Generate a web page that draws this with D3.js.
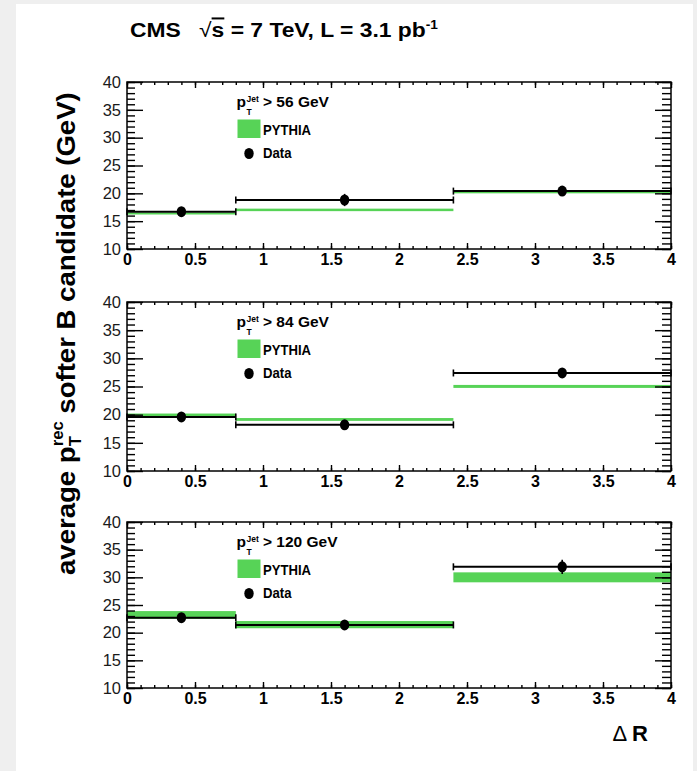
<!DOCTYPE html>
<html>
<head>
<meta charset="utf-8">
<script src="https://cdn.jsdelivr.net/npm/d3@7"></script>
<style>
  body { margin: 0; background: #efefef; }
  svg { display: block; }
  text { white-space: pre; }
</style>
</head>
<body>
<svg id="chart" width="697" height="771"></svg>
<script>
// ΔR bin edges shared by all three jet-pT selections
const binEdges = [0, 0.8, 2.4, 4];
// jet pT thresholds (GeV), one per panel
const jetCuts = ["56", "84", "120"];
// measured average pT of the softer B candidate (GeV) per ΔR bin
const dataValues = [
  [16.7, 18.8, 20.4],
  [19.6, 18.2, 27.4],
  [22.7, 21.4, 31.9]
];
const dataErrors = [
  [0.5, 1.1, 0.5],
  [0.6, 0.6, 0.9],
  [0.7, 0.7, 1.3]
];
// PYTHIA prediction band (lower / upper edge, GeV)
const pythiaLow = [
  [16.2, 16.8, 20.0],
  [19.6, 18.9, 24.75],
  [22.5, 20.8, 29.1]
];
const pythiaHigh = [
  [16.55, 17.25, 20.35],
  [20.2, 19.4, 25.28],
  [23.9, 22.1, 30.9]
];
const yTicks = [10, 15, 20, 25, 30, 35, 40];
const xTicks = [0, 0.5, 1, 1.5, 2, 2.5, 3, 3.5, 4];
const xTickLabels = ["0", "0.5", "1", "1.5", "2", "2.5", "3", "3.5", "4"];

const FONT = "'Liberation Sans', Arial, Helvetica, sans-serif";
const GREEN = "#57d357";
const W = 697, H = 771;

const svg = d3.select("#chart");
svg.append("rect").attr("x", 16).attr("y", 4).attr("width", 677).attr("height", H)
  .attr("fill", "#ffffff");

const x = d3.scaleLinear().domain([0, 4]).range([127, 671]);
const panels = [
  { top: 82, bottom: 249 },
  { top: 302, bottom: 471 },
  { top: 522, bottom: 688 }
];

const minorY = d3.range(10, 41);
const minorX = d3.range(0, 41).map(i => i / 10);

// lays out text runs left to right; a run with sup/sub stacks both at the same x
function richText(parent, runs, weight) {
  let cx = 0;
  runs.forEach(r => {
    if (r.sup !== undefined) {
      const a = parent.append("text").attr("x", cx).attr("y", r.supY)
        .attr("font-size", r.size).attr("font-weight", weight).attr("font-family", FONT).text(r.sup);
      const b = parent.append("text").attr("x", cx).attr("y", r.subY)
        .attr("font-size", r.size).attr("font-weight", weight).attr("font-family", FONT).text(r.sub);
      cx += Math.max(a.node().getComputedTextLength(), b.node().getComputedTextLength());
    } else {
      const t = parent.append("text").attr("x", cx).attr("y", r.y || 0)
        .attr("font-size", r.size).attr("font-weight", r.weight || weight)
        .attr("font-family", FONT).text(r.t);
      if (r.overline) t.style("text-decoration", "overline");
      cx += t.node().getComputedTextLength() + (r.gap || 0);
    }
  });
  return cx;
}

panels.forEach((p, i) => {
  const y = d3.scaleLinear().domain([10, 40]).range([p.bottom, p.top]);
  const g = svg.append("g");
  const bins = d3.range(3).map(b => ({
    x0: binEdges[b], x1: binEdges[b + 1],
    xc: (binEdges[b] + binEdges[b + 1]) / 2,
    v: dataValues[i][b], e: dataErrors[i][b],
    lo: pythiaLow[i][b], hi: pythiaHigh[i][b]
  }));

  // PYTHIA bands
  g.selectAll("rect.band").data(bins).join("rect").attr("class", "band")
    .attr("x", d => x(d.x0)).attr("width", d => x(d.x1) - x(d.x0))
    .attr("y", d => y(d.hi)).attr("height", d => y(d.lo) - y(d.hi))
    .attr("fill", GREEN);

  // data: horizontal bin width bars
  g.selectAll("line.hbar").data(bins).join("line").attr("class", "hbar")
    .attr("x1", d => x(d.x0)).attr("x2", d => x(d.x1))
    .attr("y1", d => y(d.v)).attr("y2", d => y(d.v))
    .attr("stroke", "#000").attr("stroke-width", 2);

  // end caps on the bin bars
  const caps = bins.flatMap(d => [{ xv: d.x0, v: d.v }, { xv: d.x1, v: d.v }]);
  g.selectAll("line.cap").data(caps).join("line").attr("class", "cap")
    .attr("x1", d => x(d.xv)).attr("x2", d => x(d.xv))
    .attr("y1", d => y(d.v) - 3.5).attr("y2", d => y(d.v) + 3.5)
    .attr("stroke", "#000").attr("stroke-width", 1.6);

  // vertical statistical error
  g.selectAll("line.vbar").data(bins).join("line").attr("class", "vbar")
    .attr("x1", d => x(d.xc)).attr("x2", d => x(d.xc))
    .attr("y1", d => y(d.v - d.e)).attr("y2", d => y(d.v + d.e))
    .attr("stroke", "#000").attr("stroke-width", 1.6);

  // markers
  g.selectAll("ellipse.pt").data(bins).join("ellipse").attr("class", "pt")
    .attr("cx", d => x(d.xc)).attr("cy", d => y(d.v)).attr("rx", 4.7).attr("ry", 5.5)
    .attr("fill", "#000");

  // axes: ticks drawn on the inside of the frame
  const styleAxis = sel => {
    sel.select(".domain").remove();
    sel.selectAll(".tick line").attr("stroke", "#000").attr("stroke-width", 1.4);
  };
  g.append("g").attr("transform", `translate(${x(0)},0)`)
    .call(d3.axisLeft(y).tickValues(minorY).tickSizeInner(-8).tickSizeOuter(0).tickFormat(() => ""))
    .call(styleAxis);
  g.append("g").attr("transform", `translate(${x(0)},0)`)
    .call(d3.axisLeft(y).tickValues(yTicks).tickSizeInner(-16).tickSizeOuter(0).tickPadding(6).tickFormat(d3.format("d")))
    .call(styleAxis)
    .call(s => s.selectAll("text").attr("font-family", FONT).attr("font-size", 16.5).attr("fill", "#1a1a1a"));
  g.append("g").attr("transform", `translate(${x(4)},0)`)
    .call(d3.axisRight(y).tickValues(minorY).tickSizeInner(-9).tickSizeOuter(0).tickFormat(() => ""))
    .call(styleAxis);
  g.append("g").attr("transform", `translate(${x(4)},0)`)
    .call(d3.axisRight(y).tickValues(yTicks).tickSizeInner(-16).tickSizeOuter(0).tickFormat(() => ""))
    .call(styleAxis);
  g.append("g").attr("transform", `translate(0,${p.bottom})`)
    .call(d3.axisBottom(x).tickValues(minorX).tickSizeInner(-3).tickSizeOuter(0).tickFormat(() => ""))
    .call(styleAxis);
  g.append("g").attr("transform", `translate(0,${p.bottom})`)
    .call(d3.axisBottom(x).tickValues(xTicks).tickSizeInner(-6).tickSizeOuter(0).tickPadding(5)
      .tickFormat((d, k) => xTickLabels[k]))
    .call(styleAxis)
    .call(s => s.selectAll("text").attr("font-family", FONT).attr("font-size", 16)
      .attr("font-weight", "bold").attr("fill", "#000"));
  g.append("g").attr("transform", `translate(0,${p.top})`)
    .call(d3.axisTop(x).tickValues(minorX).tickSizeInner(-3).tickSizeOuter(0).tickFormat(() => ""))
    .call(styleAxis);
  g.append("g").attr("transform", `translate(0,${p.top})`)
    .call(d3.axisTop(x).tickValues(xTicks).tickSizeInner(-6).tickSizeOuter(0).tickFormat(() => ""))
    .call(styleAxis);

  // frame
  g.append("rect").attr("x", x(0)).attr("y", p.top)
    .attr("width", x(4) - x(0)).attr("height", p.bottom - p.top)
    .attr("fill", "none").attr("stroke", "#000").attr("stroke-width", 1.5);

  // legend
  const lg = g.append("g").attr("transform", `translate(236.5,${p.top})`);
  lg.append("text").attr("x", 0).attr("y", 25).attr("font-family", FONT)
    .attr("font-size", 15.5).attr("font-weight", "bold").text("p");
  lg.append("text").attr("x", 10).attr("y", 20.3).attr("font-family", FONT)
    .attr("font-size", 8.5).attr("font-weight", "bold").text("Jet");
  lg.append("text").attr("x", 10).attr("y", 33).attr("font-family", FONT)
    .attr("font-size", 8.5).attr("font-weight", "bold").text("T");
  lg.append("text").attr("x", 26.5).attr("y", 25).attr("font-family", FONT)
    .attr("font-size", 15.5).attr("font-weight", "bold").text(`> ${jetCuts[i]} GeV`);
  lg.append("rect").attr("x", 1).attr("y", 37.5).attr("width", 23).attr("height", 18.5)
    .attr("fill", GREEN);
  lg.append("text").attr("x", 26.5).attr("y", 53).attr("font-family", FONT)
    .attr("font-size", 15.5).attr("font-weight", "bold")
    .attr("textLength", 48).attr("lengthAdjust", "spacingAndGlyphs").text("PYTHIA");
  lg.append("ellipse").attr("cx", 12.5).attr("cy", 71.5).attr("rx", 4.7).attr("ry", 5.5).attr("fill", "#000");
  lg.append("text").attr("x", 26.5).attr("y", 76).attr("font-family", FONT)
    .attr("font-size", 15.5).attr("font-weight", "bold")
    .attr("textLength", 28.5).attr("lengthAdjust", "spacingAndGlyphs").text("Data");
});

// title
const titleG = svg.append("g");
const titleW = richText(titleG, [
  { t: "CMS", size: 20, gap: 16 },
  { t: "\u221A", size: 20, weight: "normal" },
  { t: "s", size: 20, overline: true },
  { t: " = 7 TeV, L = 3.1 pb", size: 20 },
  { t: "-1", size: 12, y: -8 }
], "bold");
titleG.attr("transform", `translate(130,37) scale(${308 / titleW},1)`);

// y-axis title (rotated)
const yTitleG = svg.append("g");
const yTitleW = richText(yTitleG, [
  { t: "average p", size: 26.5 },
  { sup: "rec", sub: "T", size: 16, supY: -12, subY: 6 },
  { t: " softer B candidate (GeV)", size: 26.5 }
], "bold");
yTitleG.attr("transform", `translate(75,575) rotate(-90) scale(${483 / yTitleW},1)`);

// x-axis title
svg.append("text").attr("x", 648).attr("y", 741).attr("text-anchor", "end")
  .attr("font-family", FONT).attr("font-size", 22)
  .call(t => t.append("tspan").text("\u0394 "))
  .call(t => t.append("tspan").attr("font-weight", "bold").text("R"));
</script>
</body>
</html>
